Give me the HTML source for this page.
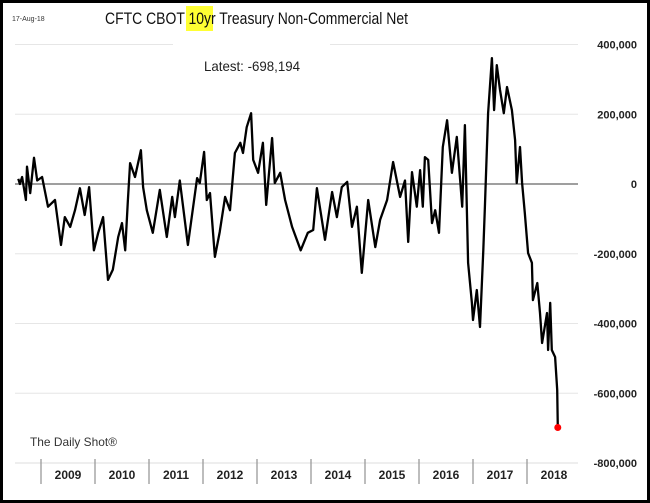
<!DOCTYPE html>
<html><head><meta charset="utf-8"><style>
body{margin:0;background:#fff;}
svg{display:block;font-family:"Liberation Sans",sans-serif;}
</style></head><body>
<svg width="650" height="503" viewBox="0 0 650 503">
<rect x="1.5" y="1.5" width="647" height="500" fill="#fff" stroke="#000" stroke-width="3"/>
<g id="grid"></g>
<rect x="173" y="40" width="157" height="40" fill="#fff"/>
<text x="12" y="21" font-size="7" fill="#333">17-Aug-18</text>
<rect x="186" y="6" width="27" height="25" fill="#ffff33"/>
<text x="105" y="24" font-size="17" fill="#111" textLength="303" lengthAdjust="spacingAndGlyphs">CFTC CBOT 10yr Treasury Non-Commercial Net</text>
<text x="204" y="71" font-size="14" fill="#222" textLength="96" lengthAdjust="spacingAndGlyphs">Latest:  -698,194</text>
<text x="30" y="446" font-size="12" fill="#333" textLength="87" lengthAdjust="spacingAndGlyphs">The Daily Shot®</text>
<g id="yticks"></g>
<g id="xaxis"></g>
<path id="line" fill="none" stroke="#000" stroke-width="2.3" stroke-linejoin="round"/>
<circle id="dot" r="3.5" fill="#f00"/>
</svg>
<script>
const dates=[2008.58,2008.61,2008.65,2008.72,2008.74,2008.80,2008.87,2008.93,2009.02,2009.13,2009.26,2009.37,2009.44,2009.54,2009.63,2009.72,2009.81,2009.89,2009.98,2010.06,2010.15,2010.24,2010.33,2010.43,2010.50,2010.56,2010.61,2010.65,2010.74,2010.85,2010.89,2010.96,2011.07,2011.20,2011.33,2011.43,2011.48,2011.57,2011.72,2011.89,2011.94,2012.02,2012.07,2012.13,2012.22,2012.31,2012.41,2012.50,2012.59,2012.69,2012.74,2012.81,2012.89,2012.93,2013.02,2013.11,2013.17,2013.28,2013.33,2013.43,2013.52,2013.65,2013.81,2013.94,2014.04,2014.11,2014.26,2014.39,2014.48,2014.57,2014.67,2014.76,2014.85,2014.94,2015.06,2015.19,2015.28,2015.41,2015.52,2015.65,2015.74,2015.80,2015.87,2015.96,2016.02,2016.07,2016.11,2016.17,2016.24,2016.30,2016.37,2016.44,2016.52,2016.61,2016.70,2016.80,2016.85,2016.91,2016.98,2017.00,2017.07,2017.13,2017.19,2017.22,2017.28,2017.35,2017.39,2017.44,2017.50,2017.57,2017.63,2017.72,2017.78,2017.81,2017.87,2017.91,2017.96,2018.02,2018.09,2018.11,2018.19,2018.24,2018.28,2018.37,2018.39,2018.43,2018.46,2018.52,2018.56,2018.57];
const values=[15000,0,20000,-46000,50000,-26000,75000,10000,20000,-65000,-46000,-175000,-95000,-123000,-75000,-12000,-89000,-9000,-190000,-140000,-95000,-275000,-246000,-152000,-112000,-190000,-46000,60000,20000,97000,-9000,-75000,-140000,-17000,-152000,-37000,-95000,10000,-175000,17000,3000,92000,-46000,-26000,-209000,-138000,-37000,-75000,89000,118000,89000,163000,203000,69000,32000,118000,-60000,132000,3000,32000,-46000,-123000,-190000,-140000,-132000,-12000,-160000,-23000,-95000,-9000,6000,-123000,-65000,-255000,-46000,-181000,-103000,-46000,63000,-37000,10000,-166000,34000,-65000,40000,-65000,77000,69000,-112000,-75000,-140000,106000,183000,32000,135000,-65000,169000,-226000,-341000,-390000,-304000,-410000,-190000,-65000,203000,361000,212000,341000,270000,203000,278000,212000,126000,3000,106000,3000,-83000,-198000,-226000,-333000,-284000,-370000,-456000,-370000,-476000,-341000,-476000,-496000,-590000,-698194];
const yTicks=[400000,200000,0,-200000,-400000,-600000,-800000];
const yTickLabels=["400,000","200,000","0","-200,000","-400,000","-600,000","-800,000"];
const years=[2009,2010,2011,2012,2013,2014,2015,2016,2017,2018];
const NS="http://www.w3.org/2000/svg";
function xs(t){return 41+(t-2009)*54;}
function ys(v){return 184-v/400000*139.5;}
function mk(tag,attrs,parent){const e=document.createElementNS(NS,tag);for(const k in attrs)e.setAttribute(k,attrs[k]);document.getElementById(parent).appendChild(e);return e;}
yTicks.forEach((v,i)=>{
  if(v!==-800000){
    const g=mk('line',{x1:15,x2:578,y1:ys(v),y2:ys(v),stroke:v===0?'#666':'#e6e6e6','stroke-width':v===0?1.2:1},'grid');
    
    
  }
  const t=mk('text',{x:637,y:ys(v)+4,'text-anchor':'end','font-size':11,'font-weight':'bold',fill:'#222'},'yticks');
  t.textContent=yTickLabels[i];
  
  
});
const ax=mk('line',{x1:15,x2:578,y1:463,y2:463,stroke:'#ddd','stroke-width':1},'xaxis');


years.forEach(yr=>{
  const tk=mk('line',{x1:xs(yr),x2:xs(yr),y1:459,y2:484,stroke:'#999','stroke-width':1.3},'xaxis');
  
  
  const t=mk('text',{x:xs(yr+0.5),y:479,'text-anchor':'middle','font-size':12,'font-weight':'bold',fill:'#222'},'xaxis');
  t.textContent=yr;
  
  
});
let d='';
dates.forEach((t,i)=>{d+=(i?'L':'M')+xs(t).toFixed(1)+','+ys(values[i]).toFixed(1);});
document.getElementById('line').setAttribute('d',d);
const n=dates.length-1;
const dot=document.getElementById('dot');
dot.setAttribute('cx',xs(dates[n]));dot.setAttribute('cy',ys(values[n]));
</script>
</body></html>
